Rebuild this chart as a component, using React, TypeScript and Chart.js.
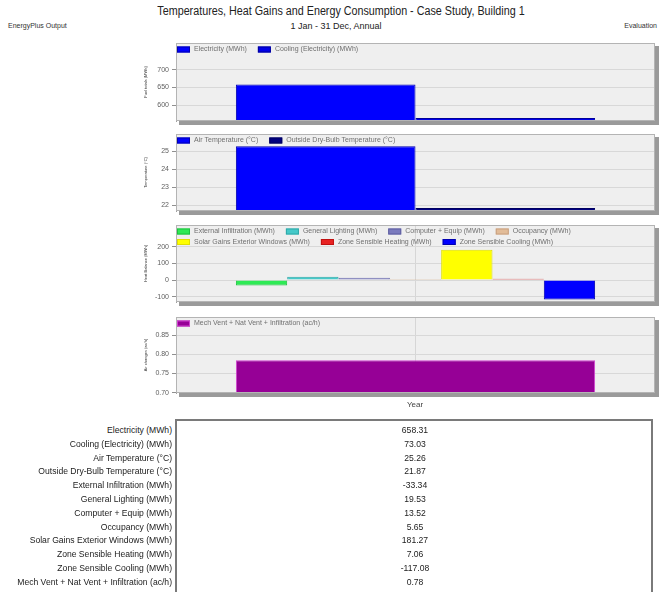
import React, { useEffect, useRef } from "react";
import { Chart, registerables } from "chart.js";
Chart.register(...registerables);

const CATEGORIES = ["Year"];

const ENERGY_LABELS = ["Electricity (MWh)", "Cooling (Electricity) (MWh)"];
const ENERGY_VALUES = [658.31, 73.03];
const ENERGY_TICKS = [600, 650, 700];

const TEMP_LABELS = ["Air Temperature (°C)", "Outside Dry-Bulb Temperature (°C)"];
const TEMP_VALUES = [25.26, 21.87];
const TEMP_TICKS = [22, 23, 24, 25];

const GAIN_LABELS = [
  "External Infiltration (MWh)",
  "General Lighting (MWh)",
  "Computer + Equip (MWh)",
  "Occupancy (MWh)",
  "Solar Gains Exterior Windows (MWh)",
  "Zone Sensible Heating (MWh)",
  "Zone Sensible Cooling (MWh)",
];
const GAIN_VALUES = [-33.34, 19.53, 13.52, 5.65, 181.27, 7.06, -117.08];
const GAIN_TICKS = [-100, 0, 100, 200];

const VENT_LABELS = ["Mech Vent + Nat Vent + Infiltration (ac/h)"];
const VENT_VALUES = [0.784];
const VENT_TICKS = [0.7, 0.75, 0.8, 0.85];

const ENERGY_COLORS = ["#0000FF", "#0000E8"];
const ENERGY_BORDERS = ["#0000B0", "#00009A"];
const TEMP_COLORS = ["#0000FF", "#000080"];
const TEMP_BORDERS = ["#0000B0", "#000060"];
const GAIN_COLORS = ["#2EEA55", "#45C9C9", "#7B7BBE", "#E2BC98", "#FFFF00", "#E82222", "#0000FF"];
const GAIN_BORDERS = ["#20C040", "#30A8A8", "#5F5FA0", "#C8A080", "#E0E000", "#C01010", "#0000B0"];
const VENT_COLORS = ["#960096"];
const VENT_BORDERS = ["#D040D0"];

const TABLE_LABELS = [...ENERGY_LABELS, ...TEMP_LABELS, ...GAIN_LABELS, ...VENT_LABELS];
const TABLE_VALUES = [...ENERGY_VALUES, ...TEMP_VALUES, ...GAIN_VALUES, ...VENT_VALUES];

const PAD = 8;
const FONT = "Arial, 'Liberation Sans', sans-serif";

function makePanelPlugin(labels: string[], colors: string[], borders: string[], yTitle: string) {
  return {
    id: "panel",
    beforeDraw(chart: any) {
      const { ctx, chartArea: a } = chart;
      const w = a.right - a.left;
      const h = a.bottom - a.top;
      ctx.save();
      ctx.fillStyle = "#9A9A9A";
      ctx.fillRect(a.left + 3, a.top + 3, w + 1, h + 1);
      ctx.fillStyle = "#EFEFEF";
      ctx.fillRect(a.left, a.top, w, h);
      ctx.restore();
    },
    beforeDatasetsDraw(chart: any) {
      const a = chart.chartArea;
      chart.getSortedVisibleDatasetMetas().forEach((meta: any) => {
        meta.data.forEach((el: any) => {
          if (el.base > a.bottom) el.base = a.bottom;
          if (el.y > a.bottom - 3 && el.base >= el.y - 0.01) el.y = a.bottom - 3;
          if (el.y > a.bottom) el.y = a.bottom - 3;
        });
      });
    },
    afterDraw(chart: any) {
      const { ctx, chartArea: a } = chart;
      ctx.save();
      ctx.strokeStyle = "#B4B4B4";
      ctx.lineWidth = 1;
      ctx.strokeRect(a.left + 0.5, a.top + 0.5, a.right - a.left - 1, a.bottom - a.top - 1);
      ctx.font = `7px ${FONT}`;
      ctx.textBaseline = "middle";
      ctx.textAlign = "left";
      let x = a.left + 1;
      let y = a.top + 6.5;
      labels.forEach((lab, i) => {
        const tw = ctx.measureText(lab).width;
        const iw = 17 + tw;
        if (x + iw > a.right - 4 && x > a.left + 1) {
          x = a.left + 1;
          y += 10.5;
        }
        ctx.fillStyle = colors[i];
        ctx.fillRect(x, y - 3, 13, 6);
        ctx.strokeStyle = borders[i];
        ctx.strokeRect(x + 0.5, y - 2.5, 12, 5);
        ctx.fillStyle = "#707070";
        ctx.fillText(lab, x + 17, y);
        x += iw + 11;
      });
      ctx.translate(146, (a.top + a.bottom) / 2);
      ctx.rotate(-Math.PI / 2);
      ctx.textAlign = "center";
      ctx.fillStyle = "#333";
      ctx.font = `4px ${FONT}`;
      ctx.fillText(yTitle, 0, 0);
      ctx.restore();
    },
  };
}

type PanelProps = {
  top: number;
  bottom: number;
  labels: string[];
  values: number[];
  colors: string[];
  borders: string[];
  ticks: number[];
  min: number;
  max: number;
  decimals: number;
  yTitle: string;
  xGrid: boolean;
};

function Panel(p: PanelProps) {
  const ref = useRef<HTMLCanvasElement>(null);
  const h = p.bottom - p.top + 2 * PAD;
  useEffect(() => {
    const chart = new Chart(ref.current as HTMLCanvasElement, {
      type: "bar",
      data: {
        labels: CATEGORIES,
        datasets: p.labels.map((l, i) => ({
          label: l,
          data: [p.values[i]],
          backgroundColor: p.colors[i],
          borderColor: p.borders[i],
          borderWidth: 1,
          borderSkipped: "start",
          categoryPercentage: 0.75,
          barPercentage: 1,
        })),
      },
      options: {
        animation: false,
        responsive: false,
        maintainAspectRatio: false,
        layout: { padding: { top: PAD, bottom: PAD, left: 0, right: 6 } },
        plugins: { legend: { display: false }, tooltip: { enabled: false }, title: { display: false } },
        scales: {
          x: {
            display: true,
            ticks: { display: false },
            grid: { display: p.xGrid, offset: false, color: "#D6D6D6", drawTicks: false },
            border: { display: false },
            afterFit: (s: any) => {
              s.height = 0;
              s.paddingLeft = 0;
              s.paddingRight = 0;
            },
          },
          y: {
            min: p.min,
            max: p.max,
            afterBuildTicks: (s: any) => {
              s.ticks = p.ticks.map((v) => ({ value: v }));
            },
            ticks: {
              font: { size: 7, family: FONT },
              color: "#606060",
              padding: 3,
              callback: (v: any) => Number(v).toFixed(p.decimals),
            },
            grid: { color: "#D8D8D8", tickLength: 4, tickColor: "#909090" },
            border: { color: "#A0A0A0" },
            afterFit: (s: any) => {
              s.width = 176;
              s.paddingTop = 0;
              s.paddingBottom = 0;
            },
          },
        },
      } as any,
      plugins: [makePanelPlugin(p.labels, p.colors, p.borders, p.yTitle)],
    });
    return () => chart.destroy();
  }, []);
  return (
    <canvas
      ref={ref}
      width={661}
      height={h}
      style={{ position: "absolute", left: 0, top: p.top - PAD, width: 661, height: h }}
    />
  );
}

export default function App() {
  const txt = (extra: React.CSSProperties): React.CSSProperties => ({
    position: "absolute",
    fontFamily: FONT,
    whiteSpace: "nowrap",
    ...extra,
  });
  return (
    <div style={{ position: "absolute", left: 0, top: 0, width: 661, height: 592, background: "#fff", overflow: "hidden" }}>
      <div style={txt({ left: 0, width: 682, top: 4, fontSize: 12.5, lineHeight: "14px", textAlign: "center", color: "#222", transform: "scaleX(0.86)", transformOrigin: "341px 0" })}>
        Temperatures, Heat Gains and Energy Consumption - Case Study, Building 1
      </div>
      <div style={txt({ left: 0, width: 672, top: 20, fontSize: 9, lineHeight: "12px", textAlign: "center", color: "#222" })}>
        1 Jan - 31 Dec, Annual
      </div>
      <div style={txt({ left: 8, top: 21, fontSize: 7, lineHeight: "10px", color: "#333" })}>EnergyPlus Output</div>
      <div style={txt({ right: 4, top: 21, fontSize: 7, lineHeight: "10px", color: "#333" })}>Evaluation</div>

      <Panel top={43} bottom={121} labels={ENERGY_LABELS} values={ENERGY_VALUES} colors={ENERGY_COLORS} borders={ENERGY_BORDERS} ticks={ENERGY_TICKS} min={555} max={776} decimals={0} yTitle="Fuel totals (MWh)" xGrid={false} />
      <Panel top={134} bottom={211} labels={TEMP_LABELS} values={TEMP_VALUES} colors={TEMP_COLORS} borders={TEMP_BORDERS} ticks={TEMP_TICKS} min={21.7} max={25.94} decimals={0} yTitle="Temperature (°C)" xGrid={false} />
      <Panel top={225} bottom={302} labels={GAIN_LABELS} values={GAIN_VALUES} colors={GAIN_COLORS} borders={GAIN_BORDERS} ticks={GAIN_TICKS} min={-132} max={330} decimals={0} yTitle="Heat Balance (MWh)" xGrid={true} />
      <Panel top={317} bottom={393} labels={VENT_LABELS} values={VENT_VALUES} colors={VENT_COLORS} borders={VENT_BORDERS} ticks={VENT_TICKS} min={0.699} max={0.897} decimals={2} yTitle="Air changes (ac/h)" xGrid={true} />

      <div style={txt({ left: 365, width: 100, top: 400, fontSize: 8, lineHeight: "10px", textAlign: "center", color: "#444" })}>Year</div>

      <div style={{ position: "absolute", left: 175, top: 419, width: 478, height: 176, border: "2px solid #7A7A7A", boxSizing: "border-box" }} />
      {TABLE_LABELS.map((lab, i) => (
        <React.Fragment key={lab}>
          <div style={txt({ right: 661 - 172, top: 430 + i * 13.8 - 6, fontSize: 8.6, lineHeight: "12px", textAlign: "right", color: "#222" })}>{lab}</div>
          <div style={txt({ left: 365, width: 100, top: 430 + i * 13.8 - 6, fontSize: 8.6, lineHeight: "12px", textAlign: "center", color: "#222" })}>
            {TABLE_VALUES[i].toFixed(2)}
          </div>
        </React.Fragment>
      ))}
    </div>
  );
}
